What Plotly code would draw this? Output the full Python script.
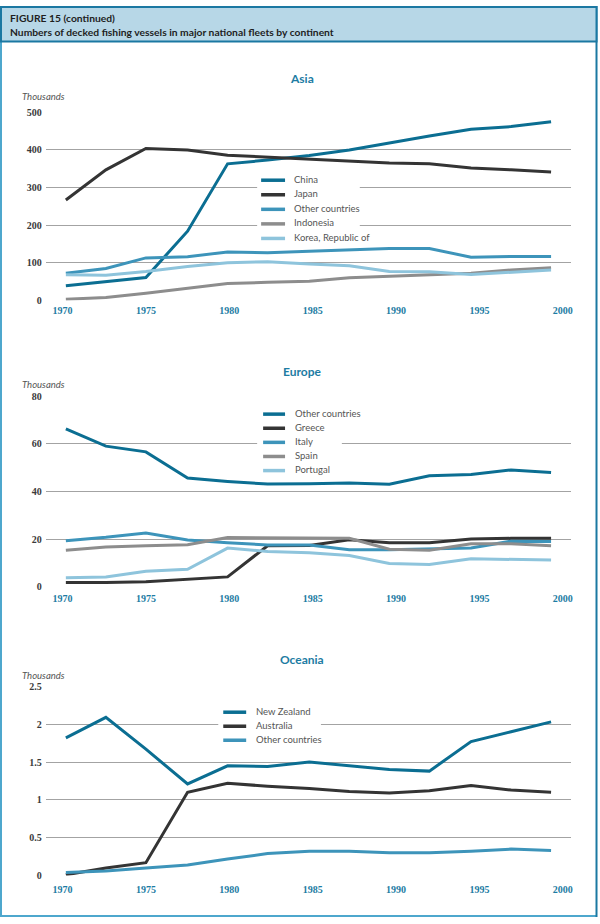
import plotly.graph_objects as go

W, H = 600, 924

# ---------------- data ----------------
years = [1970.2, 1972.6, 1975.0, 1977.5, 1979.9, 1982.3, 1984.8, 1987.2, 1989.6, 1992.0, 1994.5, 1996.9, 1999.3]
x_ticks = [1970, 1975, 1980, 1985, 1990, 1995, 2000]

asia_names = ["China", "Japan", "Other countries", "Indonesia", "Korea, Republic of"]
china = [39, 50, 61, 184, 363, 373, 385, 400, 419, 437, 455, 462, 475]
japan = [267, 347, 404, 400, 386, 381, 375, 369, 365, 363, 352, 347, 341]
asia_other = [72, 85, 113, 116, 129, 127, 131, 134, 138, 138, 115, 117, 117]
indonesia = [3, 8, 19, 33, 45, 48, 51, 60, 64, 69, 72, 81, 87]
korea = [68, 67, 77, 90, 100, 103, 97, 92, 77, 76, 69, 76, 81]
asia_ticks = [0, 100, 200, 300, 400, 500]

europe_names = ["Other countries", "Greece", "Italy", "Spain", "Portugal"]
eu_other = [66.3, 59.0, 56.6, 45.6, 44.2, 43.1, 43.2, 43.5, 43.0, 46.6, 47.1, 49.0, 47.9]
greece = [1.7, 1.7, 2.1, 3.2, 4.1, 17.2, 17.3, 19.7, 18.4, 18.4, 20.0, 20.3, 20.3]
italy = [19.3, 20.7, 22.5, 19.6, 18.4, 17.5, 17.5, 15.5, 15.5, 15.9, 16.2, 19.1, 19.0]
spain = [15.3, 16.7, 17.2, 17.6, 20.6, 20.4, 20.2, 20.3, 15.7, 15.3, 18.0, 18.0, 17.2]
portugal = [3.7, 4.1, 6.5, 7.3, 16.2, 14.8, 14.2, 13.1, 9.7, 9.3, 11.7, 11.5, 11.2]
europe_ticks = [0, 20, 40, 60, 80]

oceania_names = ["New Zealand", "Australia", "Other countries"]
new_zealand = [1.82, 2.09, 1.67, 1.21, 1.45, 1.44, 1.50, 1.45, 1.40, 1.38, 1.77, 1.90, 2.03]
australia = [0.01, 0.10, 0.17, 1.10, 1.22, 1.18, 1.15, 1.11, 1.09, 1.12, 1.19, 1.13, 1.10]
oc_other = [0.04, 0.06, 0.10, 0.14, 0.22, 0.29, 0.32, 0.32, 0.30, 0.30, 0.32, 0.35, 0.33]
oceania_ticks = [0, 0.5, 1, 1.5, 2, 2.5]

# ---------------- styles ----------------
C_DARKBLUE = "#0b6e92"
C_BLACK = "#343434"
C_MIDBLUE = "#3d94ba"
C_GREY = "#8d8d8d"
C_LIGHTBLUE = "#8ec4dc"
TEAL = "#1d7ca3"

def px(x):
    return x / W

def py(y):
    return 1 - y / H

X_DOM = [px(46), px(573)]
X_RANGE = [1969, 2000.5]

panels = [
    dict(title="Asia", names=asia_names, series=[china, japan, asia_other, indonesia, korea],
         colors=[C_DARKBLUE, C_BLACK, C_MIDBLUE, C_GREY, C_LIGHTBLUE],
         ticks=asia_ticks, top=107.7, bottom=298.3, title_y=73, thous_y=92,
         xlab_gap=3,
         leg=dict(box=(258, 166, 361, 243), sw=(262, 286), tx=293, y0=175.5, dy=14.75)),
    dict(title="Europe", names=europe_names, series=[eu_other, greece, italy, spain, portugal],
         colors=[C_DARKBLUE, C_BLACK, C_MIDBLUE, C_GREY, C_LIGHTBLUE],
         ticks=europe_ticks, top=395.3, bottom=588.3, title_y=370, thous_y=383,
         xlab_gap=4,
         leg=dict(box=(258, 404, 343, 479), sw=(264, 286), tx=294, y0=412.5, dy=14.3)),
    dict(title="Oceania", names=oceania_names, series=[new_zealand, australia, oc_other],
         colors=[C_DARKBLUE, C_BLACK, C_MIDBLUE],
         ticks=oceania_ticks, top=689.3, bottom=881, title_y=662, thous_y=678,
         xlab_gap=6,
         leg=dict(box=(219, 706, 322, 750), sw=(224, 247), tx=255, y0=714.5, dy=14.2)),
]

fig = go.Figure()
shapes = []
annotations = []
layout_axes = {}

for i, p in enumerate(panels):
    n = i + 1
    xa = "x" if n == 1 else f"x{n}"
    ya = "y" if n == 1 else f"y{n}"
    for name, vals, col in zip(p["names"], p["series"], p["colors"]):
        fig.add_trace(go.Scatter(x=years, y=vals, name=name, mode="lines",
                                 line=dict(color=col, width=3), showlegend=False,
                                 xaxis=xa, yaxis=ya))
    xkey = "xaxis" if n == 1 else f"xaxis{n}"
    ykey = "yaxis" if n == 1 else f"yaxis{n}"
    layout_axes[xkey] = dict(domain=X_DOM, range=X_RANGE, anchor=ya, tickvals=x_ticks,
                             showgrid=False, zeroline=False, showline=False, ticks="",
                             tickfont=dict(family="Liberation Serif", size=10, color=TEAL, weight="bold"),
                             ticklabelstandoff=p["xlab_gap"])
    layout_axes[ykey] = dict(domain=[py(p["bottom"]), py(p["top"])],
                             range=[p["ticks"][0], p["ticks"][-1]], anchor=xa,
                             tickvals=p["ticks"], showgrid=True, gridcolor="#a3a3a3", gridwidth=1,
                             zeroline=False, showline=False, ticks="",
                             tickfont=dict(family="Liberation Serif", size=10, color="#3a3a3a", weight="bold"),
                             ticklabelstandoff=3)
    # panel title
    annotations.append(dict(text=p["title"], x=px(303), y=py(p["title_y"]), xref="paper", yref="paper",
                            xanchor="center", yanchor="middle", showarrow=False,
                            font=dict(family="Lato", size=12, color=TEAL, weight="bold")))
    annotations.append(dict(text="<i>Thousands</i>", x=px(20), y=py(p["thous_y"]), xref="paper", yref="paper",
                            xanchor="left", yanchor="middle", showarrow=False,
                            font=dict(family="Lato", size=9.5, color="#555555")))
    # legend (hand-built for compact spacing)
    lg = p["leg"]
    bx0, by0, bx1, by1 = lg["box"]
    shapes.append(dict(type="rect", xref="paper", yref="paper", x0=px(bx0), x1=px(bx1),
                       y0=py(by1), y1=py(by0), fillcolor="white", line=dict(width=0), layer="above"))
    for k, (name, col) in enumerate(zip(p["names"], p["colors"])):
        yy = lg["y0"] + k * lg["dy"]
        shapes.append(dict(type="line", xref="paper", yref="paper", x0=px(lg["sw"][0]), x1=px(lg["sw"][1]),
                           y0=py(yy + 1), y1=py(yy + 1), line=dict(color=col, width=3.5), layer="above"))
        annotations.append(dict(text=name, x=px(lg["tx"]), y=py(yy), xref="paper", yref="paper",
                                xanchor="left", yanchor="middle", showarrow=False,
                                font=dict(family="Lato", size=9.5, color="#555555")))

# frame and header
DARK_FRAME = "#1b78a2"
LIGHT_FRAME = "#4ea7cd"
shapes.append(dict(type="line", xref="paper", yref="paper", x0=px(1), x1=px(1), y0=py(923), y1=py(36),
                   line=dict(color=LIGHT_FRAME, width=2), layer="above"))
shapes.append(dict(type="line", xref="paper", yref="paper", x0=px(0), x1=px(599), y0=py(922), y1=py(922),
                   line=dict(color=LIGHT_FRAME, width=2), layer="above"))
shapes.append(dict(type="line", xref="paper", yref="paper", x0=px(598.5), x1=px(598.5), y0=py(923), y1=py(0),
                   line=dict(color=DARK_FRAME, width=2), layer="above"))
shapes.append(dict(type="rect", xref="paper", yref="paper", x0=px(1), x1=px(598.5), y0=py(36), y1=py(1),
                   fillcolor="#b7d7e7", line=dict(color=DARK_FRAME, width=2), layer="above"))
annotations.append(dict(text="FIGURE 15 (continued)", x=px(8), y=py(12), xref="paper", yref="paper",
                        xanchor="left", yanchor="middle", showarrow=False,
                        font=dict(family="Lato", size=10.3, color="#1e1e1e", weight="bold")))
annotations.append(dict(text="Numbers of decked fishing vessels in major national fleets by continent",
                        x=px(8), y=py(26.5), xref="paper", yref="paper",
                        xanchor="left", yanchor="middle", showarrow=False,
                        font=dict(family="Lato", size=10.3, color="#1e1e1e", weight="bold")))

fig.update_layout(width=W, height=H, margin=dict(l=0, r=0, t=0, b=0),
                  paper_bgcolor="white", plot_bgcolor="white", showlegend=False,
                  shapes=shapes, annotations=annotations, **layout_axes)

fig.write_html("out.html",
               config={"displayModeBar": False},
               post_script="document.body.style.margin='0';"
                           "document.documentElement.style.overflow='hidden';"
                           "document.body.style.overflow='hidden';")
